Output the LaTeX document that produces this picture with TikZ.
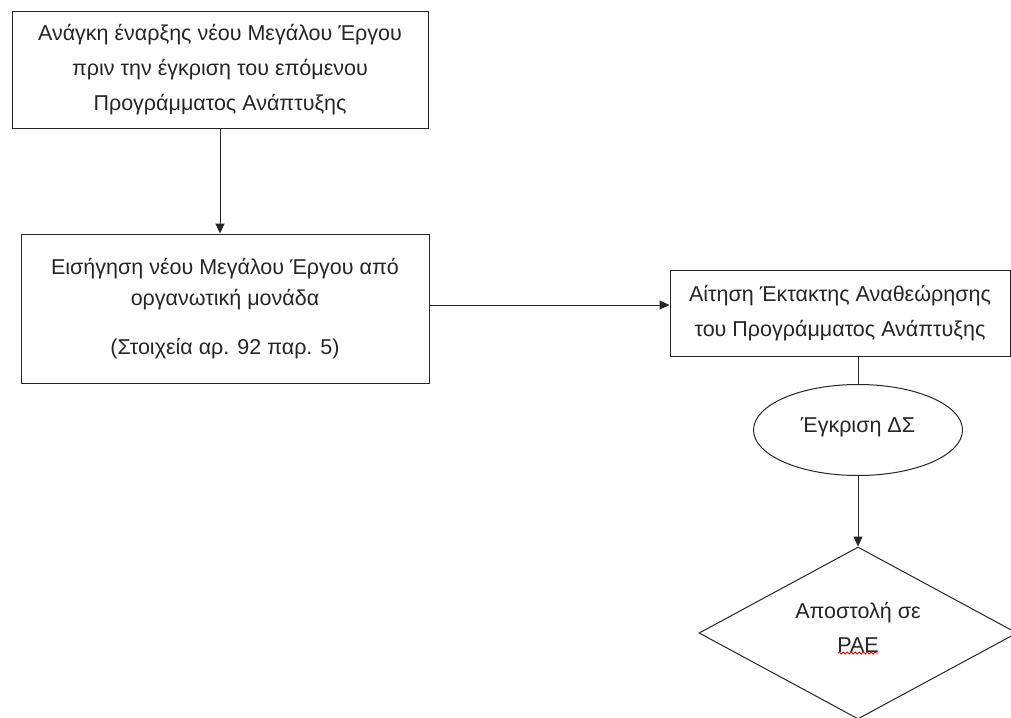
\documentclass[tikz,border=0pt]{standalone}
\usepackage{fontspec}
\setmainfont{Liberation Sans}
\usetikzlibrary{shapes.geometric,arrows.meta,calc,decorations.pathmorphing}
\begin{document}
\begin{tikzpicture}[x=1pt,y=-1pt,
  every node/.style={font=\fontsize{21.5}{35}\selectfont,text=black!85},
  stepbox/.style={draw=black!85,line width=1pt,align=center,inner sep=0pt},
  link/.style={draw=black!85,line width=1pt},
  arr/.style={link,-{Triangle[length=10pt,width=9pt]}}]
\fill[white] (0,0) rectangle (1011,717);
\useasboundingbox (0,0) rectangle (1011,717);
\clip (0,0) rectangle (1011,717);

% process boxes
\node[stepbox,minimum width=416pt,minimum height=116pt] (need) at (220,70)
  {Ανάγκη έναρξης νέου Μεγάλου Έργου\\πριν την έγκριση του επόμενου\\Προγράμματος Ανάπτυξης};
\node[stepbox,minimum width=408pt,minimum height=149pt,font=\fontsize{21.5}{31}\selectfont] (prop) at (225,308.5)
  {Εισήγηση νέου Μεγάλου Έργου από\\οργανωτική μονάδα\\[18pt](Στοιχεία αρ. 92 παρ. 5)};
\node[stepbox,minimum width=340pt,minimum height=86pt] (req) at (840,313)
  {Αίτηση Έκτακτης Αναθεώρησης\\του Προγράμματος Ανάπτυξης};

% board approval and submission
\node[ellipse,draw=black!85,line width=1pt,inner sep=0pt,minimum width=209pt,minimum height=91pt] (board) at (858,430)
  {\raisebox{9pt}{Έγκριση ΔΣ}};
\node[diamond,draw=black!85,line width=1pt,inner sep=0pt,minimum width=318pt,minimum height=172pt] (send) at (858,633) {};
\node[align=center,inner sep=0pt,font=\fontsize{21.5}{34}\selectfont] (sendtext) at (858,627)
  {Αποστολή σε\\ΡΑΕ};

% connectors
\draw[arr] (need.south) -- (need.south |- prop.north);
\draw[arr] (prop.east |- 0,305) -- (req.west |- 0,305);
\draw[link] (board.north |- req.south) -- (board.north);
\draw[arr] (board.south) -- (send.north);

% spelling marker under the abbreviation
\draw[red,line width=0.8pt,decorate,decoration={snake,amplitude=1pt,segment length=4pt}]
  ($(send.center)+(-20,20)$) -- ($(send.center)+(20,20)$);
\end{tikzpicture}
\end{document}
